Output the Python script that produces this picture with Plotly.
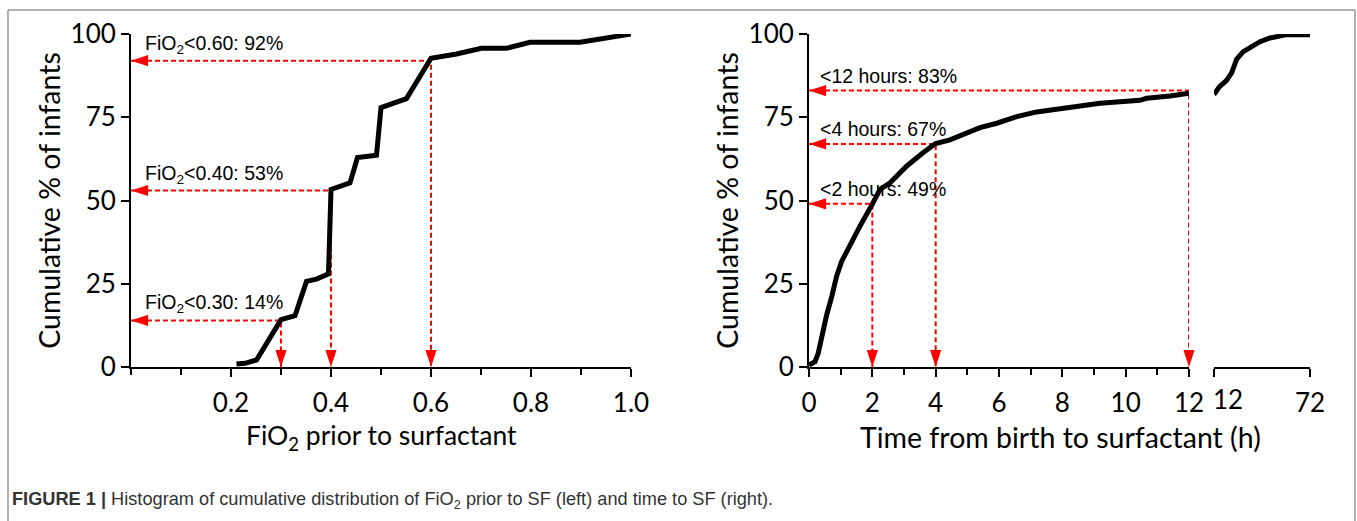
import plotly.graph_objects as go

# ---------------- data ----------------
# Left panel: cumulative % of infants vs FiO2 prior to surfactant
fio2_x = [0.211, 0.228, 0.251, 0.30, 0.328, 0.351, 0.371, 0.395, 0.40, 0.438, 0.453, 0.491,
          0.50, 0.551, 0.60, 0.651, 0.701, 0.751, 0.798, 0.898, 1.0]
fio2_y = [0.9, 1.1, 2.1, 14.2, 15.4, 25.7, 26.4, 28.0, 53.3, 55.3, 62.9, 63.6,
          77.9, 80.6, 92.7, 94.0, 95.7, 95.7, 97.5, 97.5, 100.0]
fio2_thr = [0.30, 0.40, 0.60]
fio2_pct = [14, 53, 92]
fio2_lab = ["FiO<sub>2</sub>&lt;0.30: 14%", "FiO<sub>2</sub>&lt;0.40: 53%", "FiO<sub>2</sub>&lt;0.60: 92%"]
fio2_ticks = [0.2, 0.4, 0.6, 0.8, 1.0]
fio2_ticktext = ["0.2", "0.4", "0.6", "0.8", "1.0"]

# Right panel: time from birth to surfactant (0-12 h, then 12-72 h)
time_x = [0, 0.19, 0.29, 0.40, 0.56, 0.72, 0.87, 1.03, 1.29, 1.61, 2.0, 2.24, 2.56, 3.08,
          3.61, 4.0, 4.45, 4.87, 5.4, 5.93, 6.56, 7.19, 7.9, 8.56, 9.19, 10.45, 10.66, 11.4, 12.0]
time_y = [0.6, 1.6, 4.1, 9.1, 15.7, 21.2, 27.2, 31.7, 36.7, 42.3, 48.9, 53.3, 55.3, 60.3,
          64.4, 67.1, 68.2, 69.9, 71.9, 73.2, 75.2, 76.6, 77.4, 78.2, 79.2, 80.1, 80.7, 81.4, 82.2]
late_x = [12, 12.6, 15.3, 19.9, 23.1, 26.2, 30.3, 35.6, 40.75, 47, 57.4, 72]
late_y = [82.0, 82.2, 84.1, 86.1, 88.4, 92.5, 94.7, 96.2, 97.7, 98.8, 99.8, 99.8]
time_thr = [2, 4, 12]
time_pct = [49, 67, 83]
time_lab = ["&lt;2 hours: 49%", "&lt;4 hours: 67%", "&lt;12 hours: 83%"]
time_ticks = [0, 2, 4, 6, 8, 10, 12]
late_ticks = [12, 72]

y_ticks = [0, 25, 50, 75, 100]
y_title = "Cumulative % of infants"
x1_title = "FiO<sub>2</sub> prior to surfactant"
x2_title = "Time from birth to surfactant (h)"
caption = ("<b>FIGURE 1 |</b> Histogram of cumulative distribution of FiO<sub>2</sub> "
           "prior to SF (left) and time to SF (right).")

# ---------------- layout constants ----------------
W, H = 1357, 521
TITLE_FONT = "Lato, Calibri, Carlito, sans-serif"
LABEL_FONT = "Liberation Sans, Arial, Helvetica, sans-serif"
RED = "#ff0000"
ydom = [(H - 367) / H, (H - 34) / H]

fig = go.Figure()


def guide(xs, ys, xa, ya):
    gx, gy = [], []
    for t, p in zip(xs, ys):
        gx += [0, t, t, None]
        gy += [p, p, 0, None]
    fig.add_trace(go.Scatter(x=gx, y=gy, mode="lines", xaxis=xa, yaxis=ya,
                             line=dict(color=RED, width=2, dash="5px,3px"),
                             hoverinfo="skip", showlegend=False))
    # arrow heads: left-pointing at the y axis, down-pointing at the x axis
    hx = [0] * len(xs) + list(xs)
    hy = list(ys) + [0] * len(xs)
    ang = [270] * len(xs) + [180] * len(xs)
    fig.add_trace(go.Scatter(x=hx, y=hy, mode="markers", xaxis=xa, yaxis=ya,
                             marker=dict(symbol="arrow", size=18, color=RED, angle=ang,
                                         line=dict(width=0)),
                             cliponaxis=False, hoverinfo="skip", showlegend=False))


# left panel
guide(fio2_thr, fio2_pct, "x", "y")
fig.add_trace(go.Scatter(x=fio2_x, y=fio2_y, mode="lines", xaxis="x", yaxis="y",
                         line=dict(color="black", width=5), showlegend=False))
# right panel
guide(time_thr, time_pct, "x2", "y2")
fig.add_trace(go.Scatter(x=time_x, y=time_y, mode="lines", xaxis="x2", yaxis="y2",
                         line=dict(color="black", width=5), showlegend=False))
fig.add_trace(go.Scatter(x=late_x, y=late_y, mode="lines", xaxis="x3", yaxis="y2",
                         line=dict(color="black", width=5), showlegend=False))
fig.add_trace(go.Scatter(x=[], y=[], xaxis="x4", yaxis="y2", showlegend=False))

tickfont = dict(family=TITLE_FONT, size=26, color="black")
axis_common = dict(showgrid=False, zeroline=False, showline=True, linecolor="black",
                   linewidth=2, ticks="outside", tickwidth=2, ticklen=8, tickcolor="black",
                   tickfont=tickfont, automargin=False)

fig.update_layout(
    width=W, height=H, margin=dict(l=0, r=0, t=0, b=0, pad=0, autoexpand=False),
    paper_bgcolor="white", plot_bgcolor="rgba(0,0,0,0)",
    font=dict(family=TITLE_FONT, color="black"),
    xaxis=dict(domain=[131 / W, 631 / W], range=[0, 1.0], anchor="y",
               tickmode="array", tickvals=fio2_ticks, ticktext=fio2_ticktext,
               ticklabelstandoff=4,
               minor=dict(dtick=0.1, tick0=0, ticks="outside", ticklen=6, tickwidth=2,
                          tickcolor="black"),
               **axis_common),
    yaxis=dict(domain=ydom, range=[0, 100], anchor="x", tickmode="array", tickvals=y_ticks,
               title=dict(text=y_title, font=dict(family=TITLE_FONT, size=28.5), standoff=2),
               **axis_common),
    xaxis2=dict(domain=[809 / W, 1189 / W], range=[0, 12], anchor="y2",
                tickmode="array", tickvals=time_ticks, ticklabelstandoff=4,
                minor=dict(dtick=1, tick0=0, ticks="outside", ticklen=6, tickwidth=2,
                           tickcolor="black"),
                **axis_common),
    yaxis2=dict(domain=ydom, range=[0, 100], anchor="x2", tickmode="array", tickvals=y_ticks,
                title=dict(text=y_title, font=dict(family=TITLE_FONT, size=28.5), standoff=2),
                **axis_common),
    xaxis3=dict(domain=[1214 / W, 1310 / W], range=[12, 72], anchor="y2",
                tickmode="array", tickvals=late_ticks, ticktext=["", "72"],
                ticklabelstandoff=4, **axis_common),
    xaxis4=dict(overlaying="x3", range=[12, 72], anchor="y2", showgrid=False, zeroline=False,
                showline=False, ticks="inside", tickvals=late_ticks, ticklen=7, tickwidth=2,
                tickcolor="black", showticklabels=False, automargin=False),
)

annotations = []
for t, p, lab in zip(fio2_thr, fio2_pct, fio2_lab):
    annotations.append(dict(x=0, y=p, xref="x", yref="y", text=lab, showarrow=False,
                            xanchor="left", yanchor="bottom", xshift=12, yshift=2,
                            font=dict(family=LABEL_FONT, size=19.5, color="black")))
for t, p, lab in zip(time_thr, time_pct, time_lab):
    annotations.append(dict(x=0, y=p, xref="x2", yref="y2", text=lab, showarrow=False,
                            xanchor="left", yanchor="bottom", xshift=9, yshift=2,
                            font=dict(family=LABEL_FONT, size=19.5, color="black")))
# the "12" of the broken axis is set slightly to the right of its tick
annotations.append(dict(x=late_ticks[0], y=0, xref="x3", yref="y2", text="12", showarrow=False,
                        xanchor="center", yanchor="top", xshift=14, yshift=-14,
                        font=tickfont))
# x-axis titles (the right one is centred under the whole broken axis)
annotations.append(dict(x=381 / W, y=(H - 437) / H, xref="paper", yref="paper", text=x1_title,
                        showarrow=False, xanchor="center", yanchor="middle",
                        font=dict(family=TITLE_FONT, size=26.5, color="black")))
annotations.append(dict(x=1060 / W, y=(H - 437) / H, xref="paper", yref="paper", text=x2_title,
                        showarrow=False, xanchor="center", yanchor="middle",
                        font=dict(family=TITLE_FONT, size=28.5, color="black")))
annotations.append(dict(x=10 / W, y=(H - 500) / H, xref="paper", yref="paper", text=caption,
                        showarrow=False, xanchor="left", yanchor="middle",
                        font=dict(family=LABEL_FONT, size=18.2, color="#333333")))
fig.update_layout(annotations=annotations)

fig.add_shape(type="rect", xref="paper", yref="paper", x0=8 / W, x1=1355 / W,
              y0=-0.2, y1=(H - 10) / H, line=dict(color="#666666", width=1),
              fillcolor="rgba(0,0,0,0)", layer="below")

fig.write_html("out.html", config={"displayModeBar": False},
               post_script="document.body.style.margin='0';document.body.style.overflow='hidden';")
